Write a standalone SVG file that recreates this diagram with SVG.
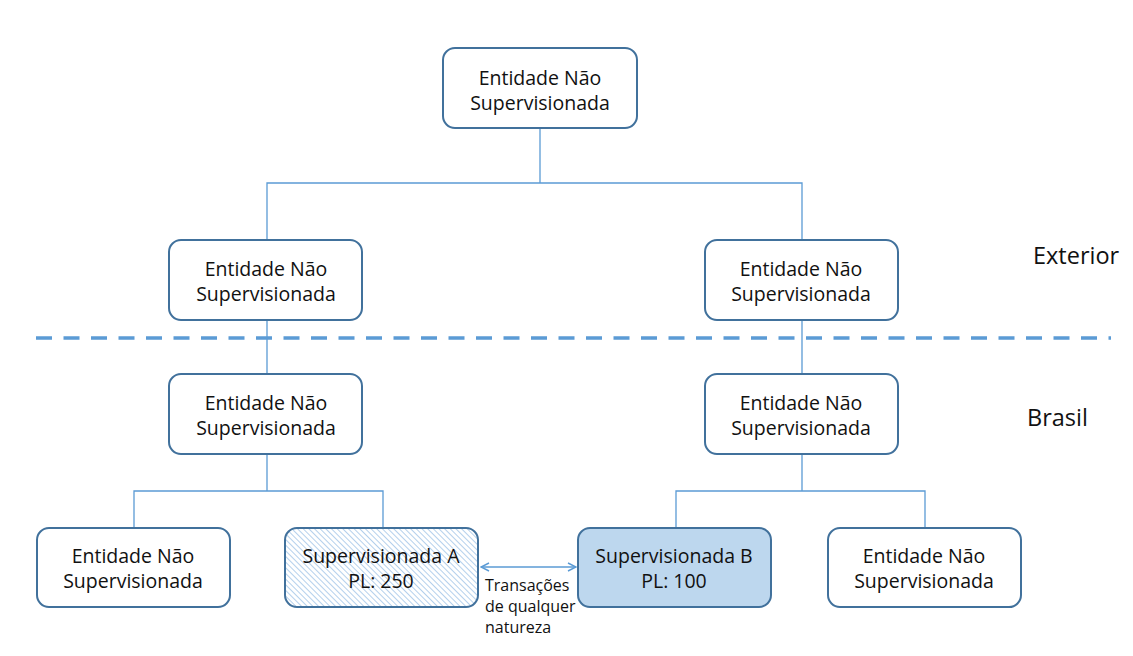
<svg xmlns="http://www.w3.org/2000/svg" width="1133" height="656" viewBox="0 0 1133 656">
<defs>
<style>
.box{fill:#ffffff;stroke:#41719C;stroke-width:2}
.t{font-family:"Open Sans","Liberation Sans",sans-serif;font-size:19.5px;fill:#111111;text-anchor:middle}
.lbl{font-family:"Open Sans","Liberation Sans",sans-serif;font-size:23.5px;fill:#111111}
.sm{font-family:"Open Sans","Liberation Sans",sans-serif;font-size:16px;fill:#111111}
.c{fill:none;stroke:#5B9BD5;stroke-width:1.3}
</style>
<pattern id="hatch" patternUnits="userSpaceOnUse" width="4" height="4" patternTransform="rotate(-45)">
<rect width="4" height="4" fill="#ffffff"/>
<line x1="0" y1="0" x2="0" y2="4" stroke="#B4D0EC" stroke-width="2"/>
</pattern>
<marker id="ah" viewBox="0 0 10 10" refX="9" refY="5" markerWidth="10" markerHeight="10" markerUnits="userSpaceOnUse" orient="auto-start-reverse">
<path d="M1,1 L9,5 L1,9" fill="none" stroke="#5B9BD5" stroke-width="1.5"/>
</marker>
</defs>
<rect width="1133" height="656" fill="#ffffff"/>
<g id="connectors">
<path class="c" d="M540,128 V183 M267,240 V183 H802 V240"/>
<path class="c" d="M267,320 V374 M802,320 V374"/>
<path class="c" d="M267,454 V491 M134,528 V491 H383 V528"/>
<path class="c" d="M802,454 V491 M676,528 V491 H925 V528"/>
<line class="c" x1="481" y1="567" x2="576" y2="567" marker-start="url(#ah)" marker-end="url(#ah)"/>
</g>
<line x1="36" y1="338" x2="1111" y2="338" stroke="#5B9BD5" stroke-width="3.5" stroke-dasharray="16 11.5"/>
<text class="lbl" x="1033" y="264">Exterior</text>
<text class="lbl" x="1027" y="426">Brasil</text>
<g id="n-top"><rect class="box" x="443" y="48" width="194" height="80" rx="12"/><text class="t" x="540" y="85">Entidade Não</text><text class="t" x="540" y="110">Supervisionada</text></g>
<g id="n-ext-left"><rect class="box" x="169" y="240" width="193" height="80" rx="12"/><text class="t" x="266" y="276">Entidade Não</text><text class="t" x="266" y="301">Supervisionada</text></g>
<g id="n-ext-right"><rect class="box" x="705" y="240" width="193" height="80" rx="12"/><text class="t" x="801" y="276">Entidade Não</text><text class="t" x="801" y="301">Supervisionada</text></g>
<g id="n-br-left"><rect class="box" x="169" y="374" width="193" height="80" rx="12"/><text class="t" x="266" y="410">Entidade Não</text><text class="t" x="266" y="435">Supervisionada</text></g>
<g id="n-br-right"><rect class="box" x="705" y="374" width="193" height="80" rx="12"/><text class="t" x="801" y="410">Entidade Não</text><text class="t" x="801" y="435">Supervisionada</text></g>
<g id="n-bl"><rect class="box" x="37" y="528" width="193" height="79" rx="12"/><text class="t" x="133" y="563">Entidade Não</text><text class="t" x="133" y="588">Supervisionada</text></g>
<g id="n-sa"><rect class="box" x="285" y="528" width="193" height="79" rx="12" style="fill:url(#hatch)"/><text class="t" x="381" y="563">Supervisionada A</text><text class="t" x="381" y="588">PL: 250</text></g>
<g id="n-sb"><rect class="box" x="578" y="528" width="193" height="79" rx="12" style="fill:#BDD7EE"/><text class="t" x="674" y="563">Supervisionada B</text><text class="t" x="674" y="588">PL: 100</text></g>
<g id="n-br"><rect class="box" x="828" y="528" width="193" height="79" rx="12"/><text class="t" x="924" y="563">Entidade Não</text><text class="t" x="924" y="588">Supervisionada</text></g>
<g id="label-trans"><text class="sm" x="485" y="591">Transações</text><text class="sm" x="485" y="612">de qualquer</text><text class="sm" x="485" y="633">natureza</text></g>
</svg>
